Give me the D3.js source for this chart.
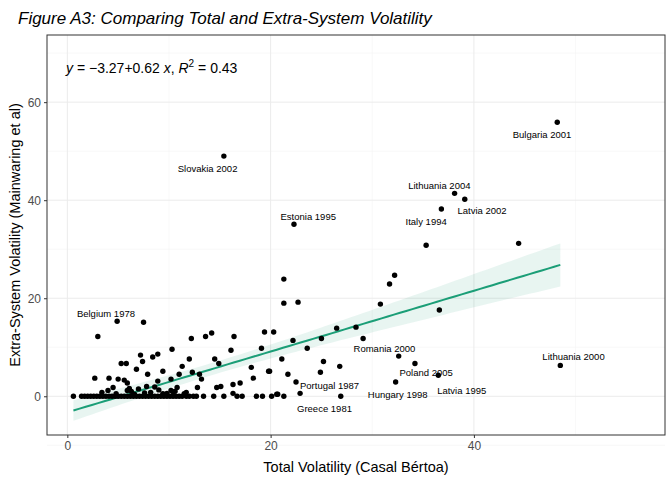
<!DOCTYPE html>
<html><head><meta charset="utf-8">
<script src="https://cdn.jsdelivr.net/npm/d3@7"></script>
<style>body{margin:0;background:#fff;font-family:"Liberation Sans",Arial,sans-serif}</style>
</head><body>
<script>
// total volatility (x) and extra-system volatility (y)
const totalVol = [48.2,15.4,38.1,39.1,36.8,22.3,35.3,44.4,4.9,48.5,29.1,32.6,34.2,36.5,32.3,22.5,26.9,
  21.3,32.2,31.7,21.3,22.7,30.8,36.6,20.3,22.2,26.5,28.4,25.0,23.6,21.1,25.2,26.8,21.7,24.9,19.9,20.1,20.6,21.3,22.9,
  7.5,3.0,13.6,14.2,16.4,19.4,12.2,10.3,7.2,8.9,8.4,7.4,5.3,5.8,12.0,14.5,14.9,16.1,19.1,18.1,19.8,18.3,6.8,7.9,9.4,
  11.3,11.0,12.3,13.0,13.2,2.7,4.1,5.0,5.6,5.9,8.9,10.2,4.5,4.0,5.9,7.8,10.2,10.8,11.7,12.8,14.7,15.1,16.3,17.0,16.3,20.7,
  6.3,7.0,8.2,9.0,9.8,10.6,11.5,6.6,7.6,8.6,9.4,10.4,3.4,4.8,6.1,
  0.6,1.4,1.7,2.0,2.3,2.6,2.9,3.2,3.5,3.8,4.1,4.4,4.7,5.0,5.3,5.6,5.9,6.2,6.5,6.8,7.1,7.4,7.7,8.0,8.3,8.6,8.9,9.2,
  9.5,9.8,10.1,10.4,10.7,11.0,11.3,11.7,12.0,12.4,12.7,13.4,14.4,15.4,16.7,17.2,18.6,19.2];
const extraVol = [55.9,49.0,41.4,40.2,38.2,35.1,30.8,31.2,15.3,6.3,11.8,8.2,6.7,4.3,2.9,2.9,0,
  23.9,24.7,22.9,19.0,19.2,18.8,17.6,13.1,11.4,13.9,14.1,11.8,9.8,7.6,7.1,6.1,4.5,4.9,5.1,0,0.4,0,0.6,
  15.1,12.2,12.2,12.9,12.2,13.1,11.8,9.6,8.4,8.6,8.0,7.1,6.7,6.7,7.6,7.6,6.7,9.4,9.8,5.9,5.1,3.7,5.5,4.5,5.1,
  6.1,4.5,4.9,4.5,3.5,3.7,3.7,3.5,3.3,2.7,3.1,3.5,1.8,1.2,1.2,2.0,1.2,1.8,0.8,1.8,1.8,2.0,2.4,2.7,0.6,0.4,
  1.0,1.5,0.8,1.3,0.6,1.0,0.5,0.4,0.7,1.9,0.5,0.9,0.8,0.5,1.6,
  0,0,0,0,0,0,0,0,0,0,0,0,0,0,0,0,0,0,0,0,0,0,0,0,0,0,0,0,
  0,0,0,0,0,0,0,0,0,0,0,0,0,0,0,0,0,0];
// labelled cases: name and label anchor (data units)
const labelNames = ["Bulgaria 2001","Slovakia 2002","Lithuania 2004","Latvia 2002","Italy 1994","Estonia 1995",
  "Belgium 1978","Lithuania 2000","Romania 2000","Poland 2005","Latvia 1995","Hungary 1998","Portugal 1987","Greece 1981"];
const labelX = [46.7,13.8,36.6,40.8,35.3,23.7,3.8,49.8,31.2,35.3,38.8,32.5,25.8,25.3];
const labelY = [53.5,46.5,42.9,37.8,35.7,36.7,16.9,8.2,9.8,4.9,1.2,0.4,2.2,-2.4];
const xTicks = [0,20,40];
const yTicks = [0,20,40,60];
const intercept = -3.27, slope = 0.62;

const W = 672, H = 480;
const m = {l:47, r:7, t:35, b:45};
const svg = d3.select("body").append("svg").attr("width", W).attr("height", H);

const x = d3.scaleLinear().domain([-2, 58.8]).range([m.l, W - m.r]);
const y = d3.scaleLinear().domain([-7.9, 73.7]).range([H - m.b, m.t]);

// * GRID
const g = svg.append("g");
const minor = v => v.slice(0, -1).map((d, i) => (d + v[i + 1]) / 2);
const xm = [-20, ...xTicks, 60];
const ym = [-20, ...yTicks, 80];
minor(xm).forEach(d => g.append("line").attr("x1", x(d)).attr("x2", x(d)).attr("y1", m.t).attr("y2", H - m.b).attr("stroke", "#f3f3f3").attr("stroke-width", 0.6));
minor(ym).forEach(d => g.append("line").attr("y1", y(d)).attr("y2", y(d)).attr("x1", m.l).attr("x2", W - m.r).attr("stroke", "#f3f3f3").attr("stroke-width", 0.6));
xTicks.forEach(d => g.append("line").attr("x1", x(d)).attr("x2", x(d)).attr("y1", m.t).attr("y2", H - m.b).attr("stroke", "#ebebeb"));
yTicks.forEach(d => g.append("line").attr("y1", y(d)).attr("y2", y(d)).attr("x1", m.l).attr("x2", W - m.r).attr("stroke", "#ebebeb"));

// * CONFIDENCE RIBBON + FIT
const n = totalVol.length;
const mx = d3.mean(totalVol);
const sxx = d3.sum(totalVol, d => (d - mx) ** 2);
const rss = d3.sum(totalVol, (d, i) => (extraVol[i] - intercept - slope * d) ** 2);
const se = Math.sqrt(rss / (n - 2));
const x0 = d3.min(totalVol), x1 = d3.max(totalVol);
const grid = d3.range(80).map(i => x0 + (x1 - x0) * i / 79);
const band = grid.map(v => {
  const fit = intercept + slope * v;
  const w = 1.97 * se * Math.sqrt(1 / n + (v - mx) ** 2 / sxx);
  return {v, fit, lo: fit - w, hi: fit + w};
});
svg.append("path").datum(band)
  .attr("d", d3.area().x(d => x(d.v)).y0(d => y(d.lo)).y1(d => y(d.hi)))
  .attr("fill", "#1b9e77").attr("opacity", 0.1);
svg.append("path").datum(band)
  .attr("d", d3.line().x(d => x(d.v)).y(d => y(d.fit)))
  .attr("fill", "none").attr("stroke", "#1b9e77").attr("stroke-width", 2);

// * POINTS
svg.selectAll("circle.pt").data(totalVol).enter().append("circle")
  .attr("cx", d => x(d)).attr("cy", (d, i) => y(extraVol[i]))
  .attr("r", 2.7).attr("fill", "#000");

// * LABELS
svg.selectAll("text.lab").data(labelNames).enter().append("text")
  .attr("x", (d, i) => x(labelX[i])).attr("y", (d, i) => y(labelY[i]))
  .attr("text-anchor", "middle").attr("dominant-baseline", "central")
  .attr("font-size", 9.5).attr("fill", "#000").text(d => d);

// * PANEL BORDER
svg.append("rect").attr("x", m.l).attr("y", m.t).attr("width", W - m.l - m.r).attr("height", H - m.t - m.b)
  .attr("fill", "none").attr("stroke", "#333").attr("stroke-width", 1);

// * AXES
const xAxis = svg.append("g").attr("transform", `translate(0,${H - m.b})`)
  .call(d3.axisBottom(x).tickValues(xTicks).tickSize(3).tickPadding(3));
const yAxis = svg.append("g").attr("transform", `translate(${m.l},0)`)
  .call(d3.axisLeft(y).tickValues(yTicks).tickSize(3).tickPadding(3));
[xAxis, yAxis].forEach(a => {
  a.select(".domain").remove();
  a.selectAll("line").attr("stroke", "#333");
  a.selectAll("text").attr("fill", "#4d4d4d").attr("font-size", 12).attr("font-family", "Liberation Sans, Arial, sans-serif");
});

// * TITLES
svg.append("text").attr("x", 18).attr("y", 24).attr("font-size", 17).attr("font-style", "italic")
  .text("Figure A3: Comparing Total and Extra-System Volatility");
svg.append("text").attr("x", (m.l + W - m.r) / 2).attr("y", 472).attr("text-anchor", "middle")
  .attr("font-size", 14.5).text("Total Volatility (Casal Bértoa)");
svg.append("text").attr("transform", `translate(20,${(m.t + H - m.b) / 2}) rotate(-90)`).attr("text-anchor", "middle")
  .attr("font-size", 14.5).text("Extra-System Volatility (Mainwaring et al)");

// * EQUATION
const eq = svg.append("text").attr("x", 66).attr("y", 73).attr("font-size", 14);
eq.append("tspan").attr("font-style", "italic").text("y");
eq.append("tspan").text(" = \u22123.27+0.62 ");
eq.append("tspan").attr("font-style", "italic").text("x");
eq.append("tspan").text(", ");
eq.append("tspan").attr("font-style", "italic").text("R");
eq.append("tspan").attr("dy", -6).attr("font-size", 10).text("2");
eq.append("tspan").attr("dy", 6).text(" = 0.43");
</script>
</body></html>
